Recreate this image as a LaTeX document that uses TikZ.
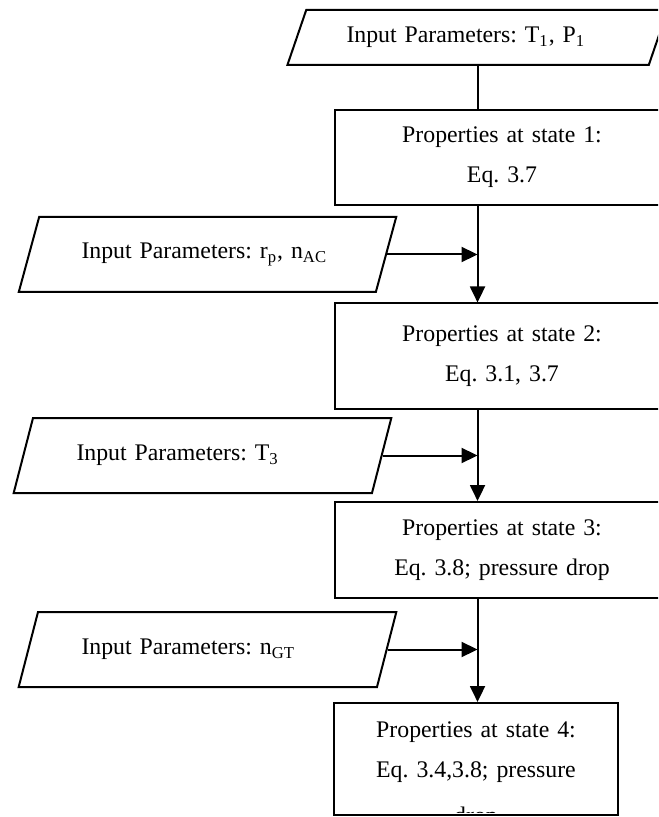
\documentclass[tikz,border=0pt]{standalone}
\usepackage{fontspec}
\setmainfont{Liberation Serif}
\frenchspacing
\usetikzlibrary{shapes.geometric, arrows.meta, positioning}
\tikzstyle{arrow}   = [line width=1pt,-{Triangle[length=8pt,width=7.5pt]}]
\tikzstyle{edge}    = [line width=1pt]
\tikzstyle{inbox}   = [draw, line width=1pt, trapezium, trapezium left angle=66, trapezium right angle=114, trapezium stretches=true, minimum width=189pt, minimum height=37.5pt, text width=126pt, align=left, font=\fontsize{11.9}{20}\selectfont]
\tikzstyle{propbox} = [draw, line width=1pt, rectangle, minimum width=167pt, text width=160pt, align=center, font=\fontsize{11.9}{20}\selectfont]

\begin{document}
\begin{tikzpicture}[x=0.5pt,y=-0.5pt]

\useasboundingbox (0,0) rectangle (658,817);
\clip (0,0) rectangle (658,817);

\node[inbox, minimum width=190.5pt, minimum height=27.5pt, text width=131pt] (in1) at (477.5,37.5) {Input Parameters: T\textsubscript{1}, P\textsubscript{1}};
\node[inbox] (in2) at (207.5,254.5) {Input Parameters: r\textsubscript{p}, n\textsubscript{AC}};
\node[inbox] (in3) at (202.5,455.5) {Input Parameters: T\textsubscript{3}};
\node[inbox] (in4) at (207.5,649.5) {Input Parameters: n\textsubscript{GT}};

\node[propbox, minimum height=47.5pt] (box1) at (502,157.5) {Properties at state 1:\\Eq. 3.7};
\node[propbox, minimum height=52.5pt] (box2) at (502,356) {Properties at state 2:\\Eq. 3.1, 3.7};
\node[propbox, minimum height=48pt]   (box3) at (502,550) {Properties at state 3:\\Eq. 3.8; pressure drop};
\node[propbox, minimum width=141pt, text width=135pt, minimum height=56pt] (box4) at (476,759) {};

% last box: third line is cut off by the box
\begin{scope}
\clip ([yshift=2pt]box4.south west) rectangle (box4.north east);
\node[anchor=north, inner sep=0pt, text width=135pt, align=center, font=\fontsize{11.9}{20}\selectfont] (txt4) at ([yshift=-9.7pt]box4.north) {Properties at state 4:\\Eq. 3.4,3.8; pressure\\[3pt]drop};
\end{scope}

\draw[edge]  (in1.south) -- (in1.south |- box1.north);
\draw[arrow] (box1.south -| in1.south) -- (box2.north -| in1.south);
\draw[arrow] (box2.south -| in1.south) -- (box3.north -| in1.south);
\draw[arrow] (box3.south -| in1.south) -- (box4.north -| in1.south);

\draw[arrow] (in2.east) -- (in2.east -| in1.south);
\draw[arrow] (in3.east) -- (in3.east -| in1.south);
\draw[arrow] (in4.east) -- (in4.east -| in1.south);

\end{tikzpicture}
\end{document}
